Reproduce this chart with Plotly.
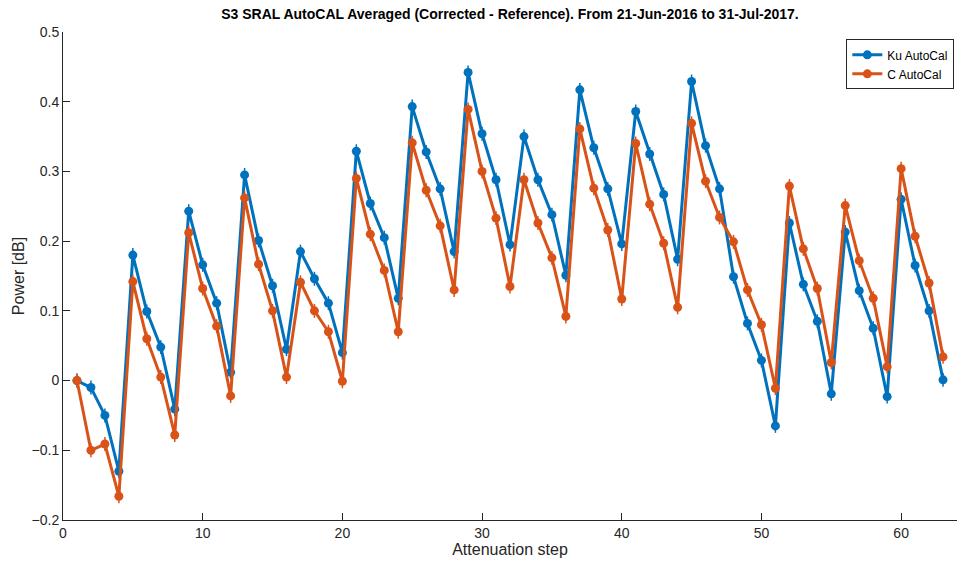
import plotly.graph_objects as go

# Dados
step = list(range(1, 64))
ku = [0.000, -0.010, -0.050, -0.130, 0.180, 0.099, 0.048, -0.041, 0.243, 0.166,
      0.111, 0.012, 0.295, 0.201, 0.136, 0.045, 0.185, 0.146, 0.111, 0.040,
      0.329, 0.254, 0.205, 0.118, 0.393, 0.328, 0.275, 0.185, 0.442, 0.354,
      0.288, 0.195, 0.350, 0.288, 0.238, 0.151, 0.417, 0.334, 0.275, 0.196,
      0.386, 0.325, 0.267, 0.174, 0.429, 0.337, 0.275, 0.149, 0.082, 0.029,
      -0.065, 0.226, 0.138, 0.085, -0.019, 0.213, 0.129, 0.075, -0.023, 0.260,
      0.165, 0.100, 0.001]
c = [0.000, -0.100, -0.091, -0.166, 0.142, 0.060, 0.005, -0.078, 0.212, 0.132,
     0.078, -0.022, 0.262, 0.167, 0.100, 0.005, 0.141, 0.100, 0.070, -0.001,
     0.290, 0.210, 0.158, 0.070, 0.341, 0.273, 0.222, 0.130, 0.389, 0.300,
     0.233, 0.135, 0.288, 0.226, 0.176, 0.092, 0.361, 0.276, 0.216, 0.117,
     0.340, 0.253, 0.197, 0.105, 0.369, 0.286, 0.234, 0.199, 0.130, 0.080,
     -0.011, 0.279, 0.189, 0.132, 0.026, 0.251, 0.172, 0.118, 0.020, 0.304,
     0.207, 0.140, 0.034]

fonte = "Liberation Sans Narrow, Arial Narrow, Liberation Sans, Arial, sans-serif"
cinza = '#262626'

fig = go.Figure()
for nome, y, cor in [('Ku AutoCal', ku, '#0072BD'), ('C AutoCal', c, '#D95319')]:
    fig.add_trace(go.Scatter(x=step, y=y, name=nome, mode='lines+markers',
                             line=dict(color=cor, width=3),
                             marker=dict(color=cor, size=9, symbol='circle'),
                             error_y=dict(type='constant', value=0.01, color=cor,
                                          thickness=1.5, width=0)))

fig.update_xaxes(range=[0, 64], tickvals=[0, 10, 20, 30, 40, 50, 60],
                 ticks='inside', ticklen=7, tickcolor=cinza, showgrid=False,
                 zeroline=False, showline=True, linecolor=cinza, linewidth=1,
                 title=dict(text='Attenuation step', standoff=2,
                            font=dict(size=16, color=cinza, family=fonte)),
                 tickfont=dict(size=14, color=cinza, family=fonte))
fig.update_yaxes(range=[-0.2, 0.5], dtick=0.1, tickformat='.1~f',
                 ticks='inside', ticklen=7, tickcolor=cinza, showgrid=False,
                 zeroline=False, showline=True, linecolor=cinza, linewidth=1,
                 title=dict(text='Power [dB]', standoff=2,
                            font=dict(size=16, color=cinza, family=fonte)),
                 tickfont=dict(size=14, color=cinza, family=fonte))
fig.update_layout(
    title=dict(text='<b>S3 SRAL AutoCAL Averaged (Corrected - Reference). From 21-Jun-2016 to 31-Jul-2017.</b>',
               x=0.5, xref='paper', xanchor='center', y=0.975, yanchor='middle',
               font=dict(size=14, color='black', family=fonte)),
    legend=dict(x=0.997, y=0.985, xanchor='right', yanchor='top',
                bgcolor='white', bordercolor=cinza, borderwidth=1,
                font=dict(size=12, color='black', family=fonte),
                tracegroupgap=0, itemwidth=30),
    width=957, height=567, autosize=False,
    margin=dict(l=63, r=0, t=32, b=47),
    plot_bgcolor='white', paper_bgcolor='white')
fig.write_html("out.html", config={'displayModeBar': False},
               post_script="document.body.style.margin='0';")
